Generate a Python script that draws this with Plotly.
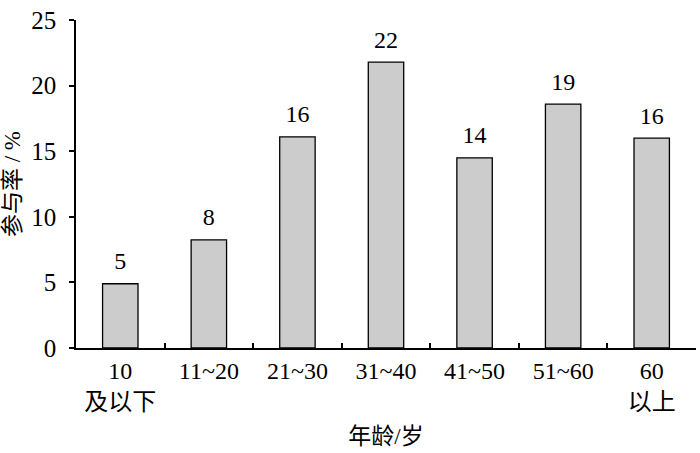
import plotly.graph_objects as go

# 年龄组 / 参与率
categories = ["10<br>及以下", "11~20", "21~30", "31~40", "41~50", "51~60", "60<br>以上"]
rates = [4.9, 8.25, 16.1, 21.8, 14.5, 18.6, 16.0]
labels = ["5", "8", "16", "22", "14", "19", "16"]

# serif for Latin glyphs, CJK glyphs fall back to Noto Sans CJK
FONT = "Liberation Serif, Times New Roman, Noto Sans CJK SC, serif"

fig = go.Figure()
fig.add_trace(go.Bar(
    x=categories,
    y=rates,
    width=0.4,
    marker=dict(color="#cccccc", line=dict(color="black", width=1.3)),
    hoverinfo="skip",
))
# value labels above bars (invisible marker pushes text up a little)
fig.add_trace(go.Scatter(
    x=categories,
    y=rates,
    text=labels,
    mode="markers+text",
    marker=dict(size=12, color="rgba(0,0,0,0)"),
    textposition="top center",
    textfont=dict(family=FONT, size=24, color="black"),
    cliponaxis=False,
    hoverinfo="skip",
))

fig.update_layout(
    width=700, height=453,
    paper_bgcolor="white", plot_bgcolor="white",
    margin=dict(l=76, r=4, t=20, b=105),
    showlegend=False,
    font=dict(family=FONT, size=24, color="black"),
    xaxis=dict(
        type="category",
        range=[-0.5, 6.5],
        automargin=False,
        showline=True, linecolor="black", linewidth=1.5,
        ticks="inside", ticklen=5, tickcolor="black", tickwidth=1.5,
        tickson="boundaries",
        showgrid=False,
        tickfont=dict(family=FONT, size=24),
        title=dict(text="年龄/岁", font=dict(family=FONT, size=23), standoff=14),
    ),
    yaxis=dict(
        range=[0, 25.01],
        tickvals=[0, 5, 10, 15, 20, 25],
        automargin=False,
        showline=True, linecolor="black", linewidth=1.5,
        ticks="outside", ticklen=5, tickcolor="black", tickwidth=1.5,
        ticklabelstandoff=8,
        showgrid=False, zeroline=False,
        tickfont=dict(family=FONT, size=25),
        title=dict(text="参与率 / %", font=dict(family=FONT, size=23), standoff=16),
    ),
)

# drop the default 8px body margin so the figure sits at the window's corner
fig.write_html(
    "out.html",
    config={"displayModeBar": False},
    post_script="document.body.style.margin = '0';",
)
